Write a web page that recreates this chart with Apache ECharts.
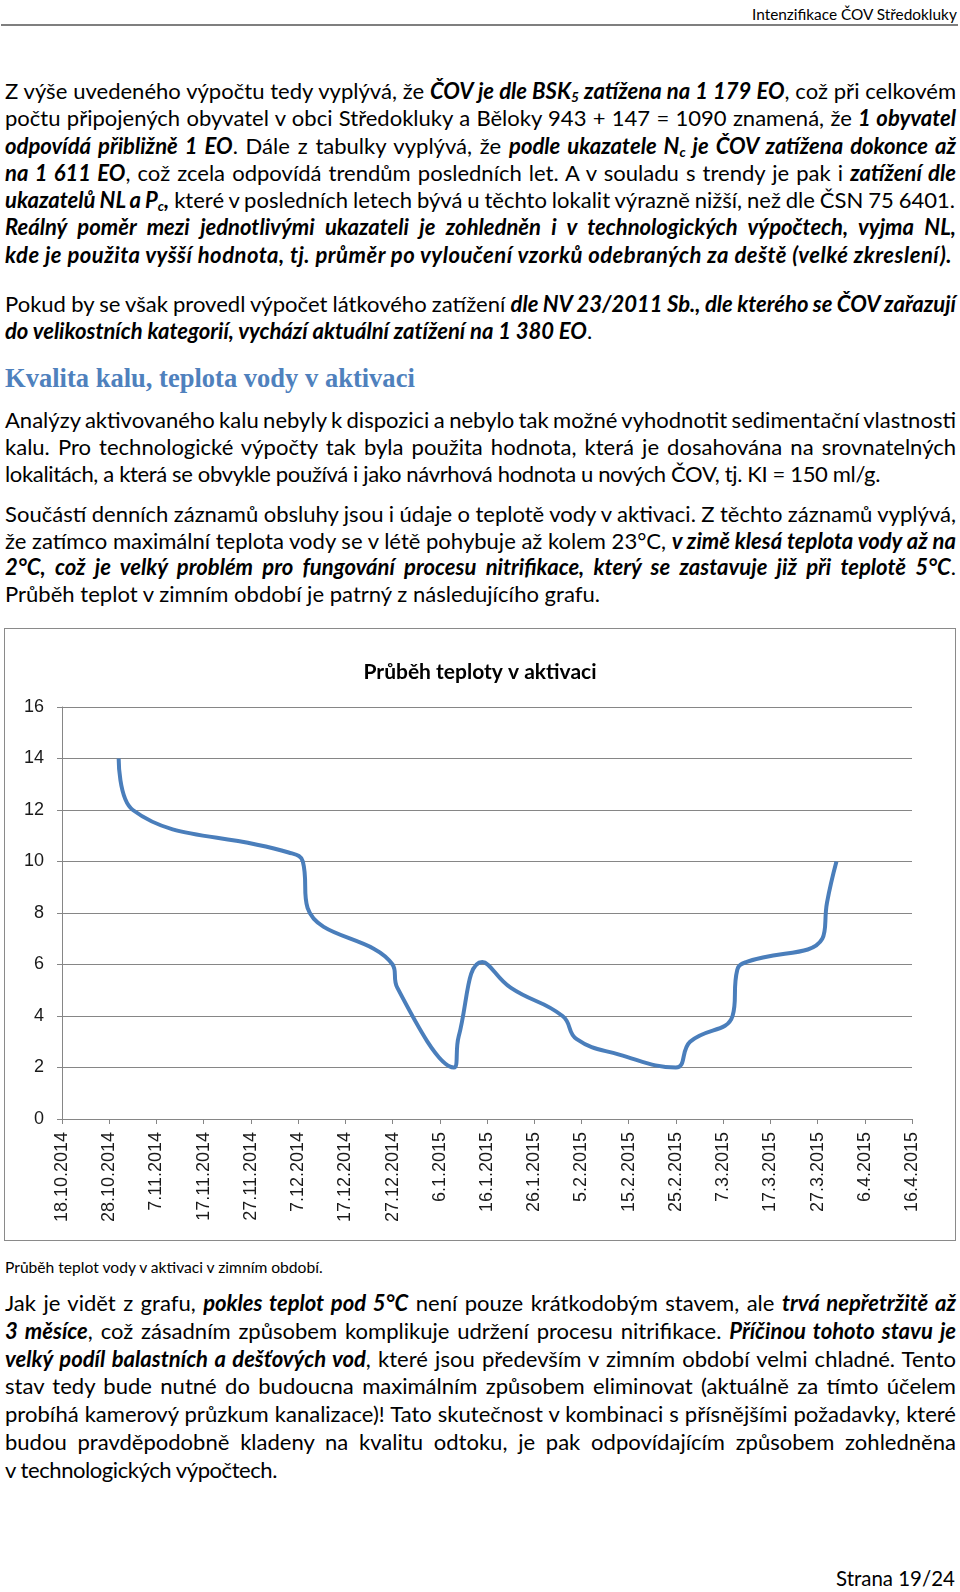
<!DOCTYPE html>
<html><head><meta charset="utf-8">
<script src="https://cdn.jsdelivr.net/npm/echarts@6/dist/echarts.min.js"></script>
<style>
html,body{margin:0;padding:0;background:#fff;}
body{width:960px;height:1592px;position:relative;overflow:hidden;font-family:Lato,'Noto Sans',sans-serif;color:#000;}
.ln{position:absolute;left:5px;white-space:nowrap;font-size:17px;line-height:28px;}
.ln b{font-weight:bold;font-style:italic;}
.ln sub{font-size:0.62em;vertical-align:-0.22em;line-height:0;}
.h{font-family:'Liberation Serif',serif;font-weight:bold;font-size:24px;color:#4F81BD;}
.cap{font-size:14px;}
#hline{position:absolute;left:1px;top:24px;width:957px;height:2px;background:#7f7f7f;}
#chart{position:absolute;left:5px;top:629px;width:950px;height:611px;outline:1.5px solid #8a8a8a;}
</style>
</head><body>
<div class="ln fit" data-y="13" data-l="752" data-r="957" style="font-size:15px">Intenzifikace ČOV Středokluky</div>
<div id="hline"></div>

<div class="ln body j" data-y="91" data-r="956">Z výše uvedeného výpočtu tedy vyplývá, že <b>ČOV je dle BSK<sub>5</sub> zatížena na 1 179 EO</b>, což při celkovém</div>
<div class="ln body j" data-y="118.3" data-r="956">počtu připojených obyvatel v obci Středokluky a Běloky 943 + 147 = 1090 znamená, že <b>1 obyvatel</b></div>
<div class="ln body j" data-y="145.6" data-r="956"><b>odpovídá přibližně 1 EO</b>. Dále z tabulky vyplývá, že <b>podle ukazatele N<sub>c</sub> je ČOV zatížena dokonce až</b></div>
<div class="ln body j" data-y="172.9" data-r="956"><b>na 1 611 EO</b>, což zcela odpovídá trendům posledních let. A v souladu s trendy je pak i <b>zatížení dle</b></div>
<div class="ln body j" data-y="200.2" data-r="955"><b>ukazatelů NL a P<sub>c</sub>,</b> které v posledních letech bývá u těchto lokalit výrazně nižší, než dle ČSN 75 6401.</div>
<div class="ln body j" data-y="227.5" data-r="956"><b>Reálný poměr mezi jednotlivými ukazateli je zohledněn i v technologických výpočtech, vyjma NL,</b></div>
<div class="ln body l" data-y="254.8" data-r="952"><b>kde je použita vyšší hodnota, tj. průměr po vyloučení vzorků odebraných za deště (velké zkreslení).</b></div>

<div class="ln body j" data-y="304" data-r="956">Pokud by se však provedl výpočet látkového zatížení <b>dle NV 23/2011 Sb., dle kterého se ČOV zařazují</b></div>
<div class="ln body l" data-y="331" data-r="592"><b>do velikostních kategorií, vychází aktuální zatížení na 1 380 EO</b>.</div>

<div class="ln h fit" data-y="379" data-l="5" data-r="415">Kvalita kalu, teplota vody v aktivaci</div>

<div class="ln body j" data-y="420" data-r="956">Analýzy aktivovaného kalu nebyly k dispozici a nebylo tak možné vyhodnotit sedimentační vlastnosti</div>
<div class="ln body j" data-y="447" data-r="956">kalu. Pro technologické výpočty tak byla použita hodnota, která je dosahována na srovnatelných</div>
<div class="ln body l" data-y="474" data-r="880">lokalitách, a která se obvykle používá i jako návrhová hodnota u nových ČOV, tj. KI = 150 ml/g.</div>

<div class="ln body j" data-y="514" data-r="956">Součástí denních záznamů obsluhy jsou i údaje o teplotě vody v aktivaci. Z těchto záznamů vyplývá,</div>
<div class="ln body j" data-y="541" data-r="956">že zatímco maximální teplota vody se v létě pohybuje až kolem 23°C, <b>v zimě klesá teplota vody až na</b></div>
<div class="ln body j" data-y="567.5" data-r="956"><b>2°C, což je velký problém pro fungování procesu nitrifikace, který se zastavuje již při teplotě 5°C</b>.</div>
<div class="ln body l" data-y="594" data-r="600">Průběh teplot v zimním období je patrný z následujícího grafu.</div>

<div id="chart"></div>

<div class="ln cap fit" data-y="1266" data-l="5" data-r="323">Průběh teplot vody v aktivaci v zimním období.</div>

<div class="ln body j" data-y="1303" data-r="956">Jak je vidět z grafu, <b>pokles teplot pod 5°C</b> není pouze krátkodobým stavem, ale <b>trvá nepřetržitě až</b></div>
<div class="ln body j" data-y="1330.8" data-r="956"><b>3 měsíce</b>, což zásadním způsobem komplikuje udržení procesu nitrifikace. <b>Příčinou tohoto stavu je</b></div>
<div class="ln body j" data-y="1358.6" data-r="956"><b>velký podíl balastních a dešťových vod</b>, které jsou především v zimním období velmi chladné. Tento</div>
<div class="ln body j" data-y="1386.4" data-r="956">stav tedy bude nutné do budoucna maximálním způsobem eliminovat (aktuálně za tímto účelem</div>
<div class="ln body j" data-y="1414.2" data-r="956">probíhá kamerový průzkum kanalizace)! Tato skutečnost v kombinaci s přísnějšími požadavky, které</div>
<div class="ln body j" data-y="1442" data-r="956">budou pravděpodobně kladeny na kvalitu odtoku, je pak odpovídajícím způsobem zohledněna</div>
<div class="ln body l" data-y="1469.8" data-r="277">v technologických výpočtech.</div>

<div class="ln fit" data-y="1578" data-l="836" data-r="955">Strana 19/24</div>

<script>
// ---- chart data ----
const chartTitle = 'Průběh teploty v aktivaci';
const baseDate = '2014-10-18';
const xTickLabels = ['18.10.2014','28.10.2014','7.11.2014','17.11.2014','27.11.2014','7.12.2014','17.12.2014','27.12.2014','6.1.2015','16.1.2015','26.1.2015','5.2.2015','15.2.2015','25.2.2015','7.3.2015','17.3.2015','27.3.2015','6.4.2015','16.4.2015'];
const xTickStepDays = 10;
const yTickLabels = ['0','2','4','6','8','10','12','14','16'];
const dates = ['2014-10-30','2014-11-02','2014-12-05','2014-12-08','2014-12-09','2014-12-27','2014-12-28','2015-01-09','2015-01-10','2015-01-15','2015-01-21','2015-02-01','2015-02-04','2015-02-13','2015-02-25','2015-02-28','2015-03-09','2015-03-10','2015-03-12','2015-03-28','2015-03-29','2015-03-31'];
const temps = [14.0,12.0,10.35,10.0,8.2,6.0,5.1,2.0,3.2,6.1,5.1,4.0,3.1,2.5,2.0,3.0,4.0,5.8,6.1,7.0,8.4,10.0];

// ---- text layout ----
function layoutText(){
  const all = [...document.querySelectorAll('.ln')];
  all.forEach(el => { el.innerHTML = '<span class="in">' + el.innerHTML + '</span>'; });
  const nat = el => el.firstChild.getBoundingClientRect().width;
  const fs = el => parseFloat(getComputedStyle(el).fontSize);
  const body = all.filter(e => e.classList.contains('body'));
  const lasts = body.filter(e => e.classList.contains('l'));
  let sT = 0, sW = 0;
  lasts.forEach(e => { sT += parseFloat(e.dataset.r) - 5; sW += nat(e); });
  const bodySize = fs(body[0]) * sT / sW;
  body.forEach(e => { e.style.fontSize = bodySize + 'px'; });
  all.filter(e => e.classList.contains('fit')).forEach(e => {
    const l = parseFloat(e.dataset.l), r = parseFloat(e.dataset.r);
    e.style.fontSize = (fs(e) * (r - l) / nat(e)) + 'px';
    e.style.left = l + 'px';
  });
  body.forEach(e => {
    const target = parseFloat(e.dataset.r) - 5;
    const w = nat(e);
    const txt = e.textContent;
    if (e.classList.contains('j')) {
      const n = txt.split(' ').length - 1;
      if (n > 0) e.style.wordSpacing = ((target - w) / n) + 'px';
    } else {
      e.style.letterSpacing = ((target - w) / txt.length) + 'px';
    }
  });
  all.forEach(e => { e.style.top = (parseFloat(e.dataset.y) - 11 - 0.137 * fs(e)) + 'px'; });
}
if (document.fonts && document.fonts.ready) { document.fonts.ready.then(layoutText); } else { layoutText(); }

// ---- chart ----
const dayOf = d => Math.round((Date.parse(d) - Date.parse(baseDate)) / 864e5);
const seriesData = dates.map((d, i) => [dayOf(d), temps[i]]);
const chart = echarts.init(document.getElementById('chart'), null, {renderer:'canvas'});
const axisGray = '#868686';
chart.setOption({
  animation: false,
  backgroundColor: '#fff',
  title: {text: chartTitle, left: 'center', top: 28,
    textStyle: {fontFamily: 'Lato', fontWeight: 'bold', fontSize: 21, color: '#000'}},
  grid: {left: 57, right: 43, top: 78, bottom: 121},
  xAxis: {
    type: 'value', min: 0, max: (xTickLabels.length - 1) * xTickStepDays, interval: xTickStepDays,
    axisLine: {show: true, lineStyle: {color: axisGray, width: 1}},
    axisTick: {show: true, length: 5, lineStyle: {color: axisGray}},
    splitLine: {show: false},
    axisLabel: {rotate: 90, margin: 13, fontFamily: 'Liberation Sans', fontSize: 18, color: '#1a1a1a',
      formatter: v => xTickLabels[Math.round(v / xTickStepDays)]}
  },
  yAxis: {
    type: 'value', min: 0, max: 16, interval: 2,
    axisLine: {show: true, lineStyle: {color: axisGray, width: 1}},
    axisTick: {show: true, length: 5, lineStyle: {color: axisGray}},
    splitLine: {show: true, lineStyle: {color: axisGray, width: 1}},
    axisLabel: {margin: 18, fontFamily: 'Liberation Sans', fontSize: 18, color: '#1a1a1a',
      formatter: v => yTickLabels[Math.round(v / 2)]}
  },
  series: [{
    type: 'line', data: seriesData, smooth: 0.45, symbol: 'none',
    lineStyle: {color: '#4A7EBB', width: 4}
  }]
});
</script>
</body></html>
